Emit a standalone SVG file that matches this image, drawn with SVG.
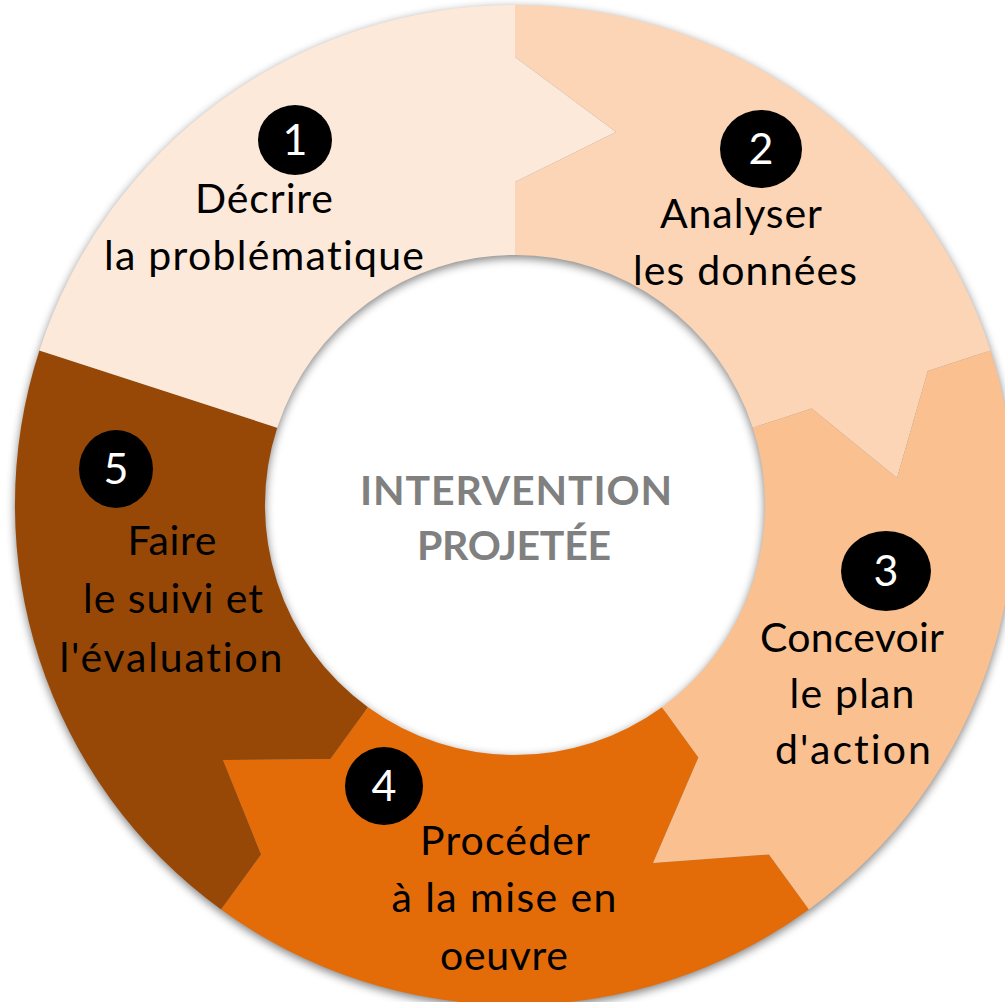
<svg xmlns="http://www.w3.org/2000/svg" width="1005" height="1002" viewBox="0 0 1005 1002">
<defs>
<filter id="shadow" x="-10%" y="-10%" width="120%" height="120%">
<feGaussianBlur stdDeviation="5"/>
</filter>
<style>
text{font-variant-ligatures:none;font-feature-settings:"liga" 0,"clig" 0}
.lbl{font-family:Lato,"Liberation Sans","DejaVu Sans",sans-serif;font-size:41px;fill:#000;text-anchor:middle}
.num{font-family:Lato,"Liberation Sans","DejaVu Sans",sans-serif;font-size:43px;fill:#fff;text-anchor:middle}
.center{font-family:Lato,"Liberation Sans","DejaVu Sans",sans-serif;font-size:41px;font-weight:bold;fill:#808080;text-anchor:middle}
.badge{fill:#000}
</style>
</defs>
<rect width="1005" height="1002" fill="#fff"/>
<g id="ring-shadow">
<path d="M15,508 A500,500 0 1,1 1015,508 A500,500 0 1,1 15,508 Z M265,508 A250,250 0 1,0 765,508 A250,250 0 1,0 265,508 Z" fill-rule="evenodd" fill="#000" opacity="0.5" filter="url(#shadow)"/>
</g>
<g id="node-5">
<path d="M221.1,909.5 A500,500 0 0,1 39.4,350.5 L277.2,427.7 A250,250 0 0,0 368,707.3 L330.4,759 L223,760 L261.1,854.5 Z" fill="#974806"/>
</g>
<g id="node-4">
<path d="M808.9,909.5 A500,500 0 0,1 221.1,909.5 L261.1,854.5 L223,760 L330.4,759 L368,707.3 A250,250 0 0,0 662,707.3 L698.4,757.4 L653,863 L768.9,854.5 Z" fill="#E36C09"/>
</g>
<g id="node-3">
<path d="M990.5,350.5 A500,500 0 0,1 808.9,909.5 L768.9,854.5 L653,863 L698.4,757.4 L662,707.3 A250,250 0 0,0 752.8,427.7 L811.7,408.6 L897,478 L927.8,370.9 Z" fill="#FAC090"/>
</g>
<g id="node-2">
<path d="M515,5 A500,500 0 0,1 990.5,350.5 L927.8,370.9 L897,478 L811.7,408.6 L752.8,427.7 A250,250 0 0,0 515,255 L515,182 L616,132 L515,57 Z" fill="#FBD5B5"/>
</g>
<g id="node-1">
<path d="M39.4,350.5 A500,500 0 0,1 515,5 L515,57 L616,132 L515,182 L515,255 A250,250 0 0,0 277.2,427.7 Z" fill="#FDE9D9"/>
</g>
<g id="label-1">
<ellipse class="badge" cx="295" cy="140" rx="37" ry="35"/>
<text class="num" x="295" y="155">1</text>
<text class="lbl" x="264" y="213" textLength="138">Décrire</text>
<text class="lbl" x="264" y="270" textLength="320">la problématique</text>
</g>
<g id="label-2">
<ellipse class="badge" cx="761" cy="149" rx="41" ry="39"/>
<text class="num" x="761" y="164">2</text>
<text class="lbl" x="741" y="228" textLength="162">Analyser</text>
<text class="lbl" x="745" y="285" textLength="224">les données</text>
</g>
<g id="label-3">
<ellipse class="badge" cx="886" cy="571" rx="45" ry="40"/>
<text class="num" x="886" y="586">3</text>
<text class="lbl" x="852" y="652" textLength="184">Concevoir</text>
<text class="lbl" x="852" y="708" textLength="125">le plan</text>
<text class="lbl" x="853" y="764" textLength="156">d'action</text>
</g>
<g id="label-4">
<ellipse class="badge" cx="384" cy="786" rx="39" ry="39"/>
<text class="num" x="384" y="801">4</text>
<text class="lbl" x="505" y="855" textLength="170">Procéder</text>
<text class="lbl" x="504" y="912" textLength="225">à la mise en</text>
<text class="lbl" x="504" y="970" textLength="128">oeuvre</text>
</g>
<g id="label-5">
<ellipse class="badge" cx="116" cy="469" rx="37" ry="39"/>
<text class="num" x="116" y="484">5</text>
<text class="lbl" x="172" y="555" textLength="89">Faire</text>
<text class="lbl" x="173" y="613" textLength="180">le suivi et</text>
<text class="lbl" x="171" y="672" textLength="223">l'évaluation</text>
</g>
<g id="center">
<text class="center" x="516" y="505" textLength="312">INTERVENTION</text>
<text class="center" x="514" y="560" textLength="194">PROJETÉE</text>
</g>
<g id="connectors"/>
</svg>
